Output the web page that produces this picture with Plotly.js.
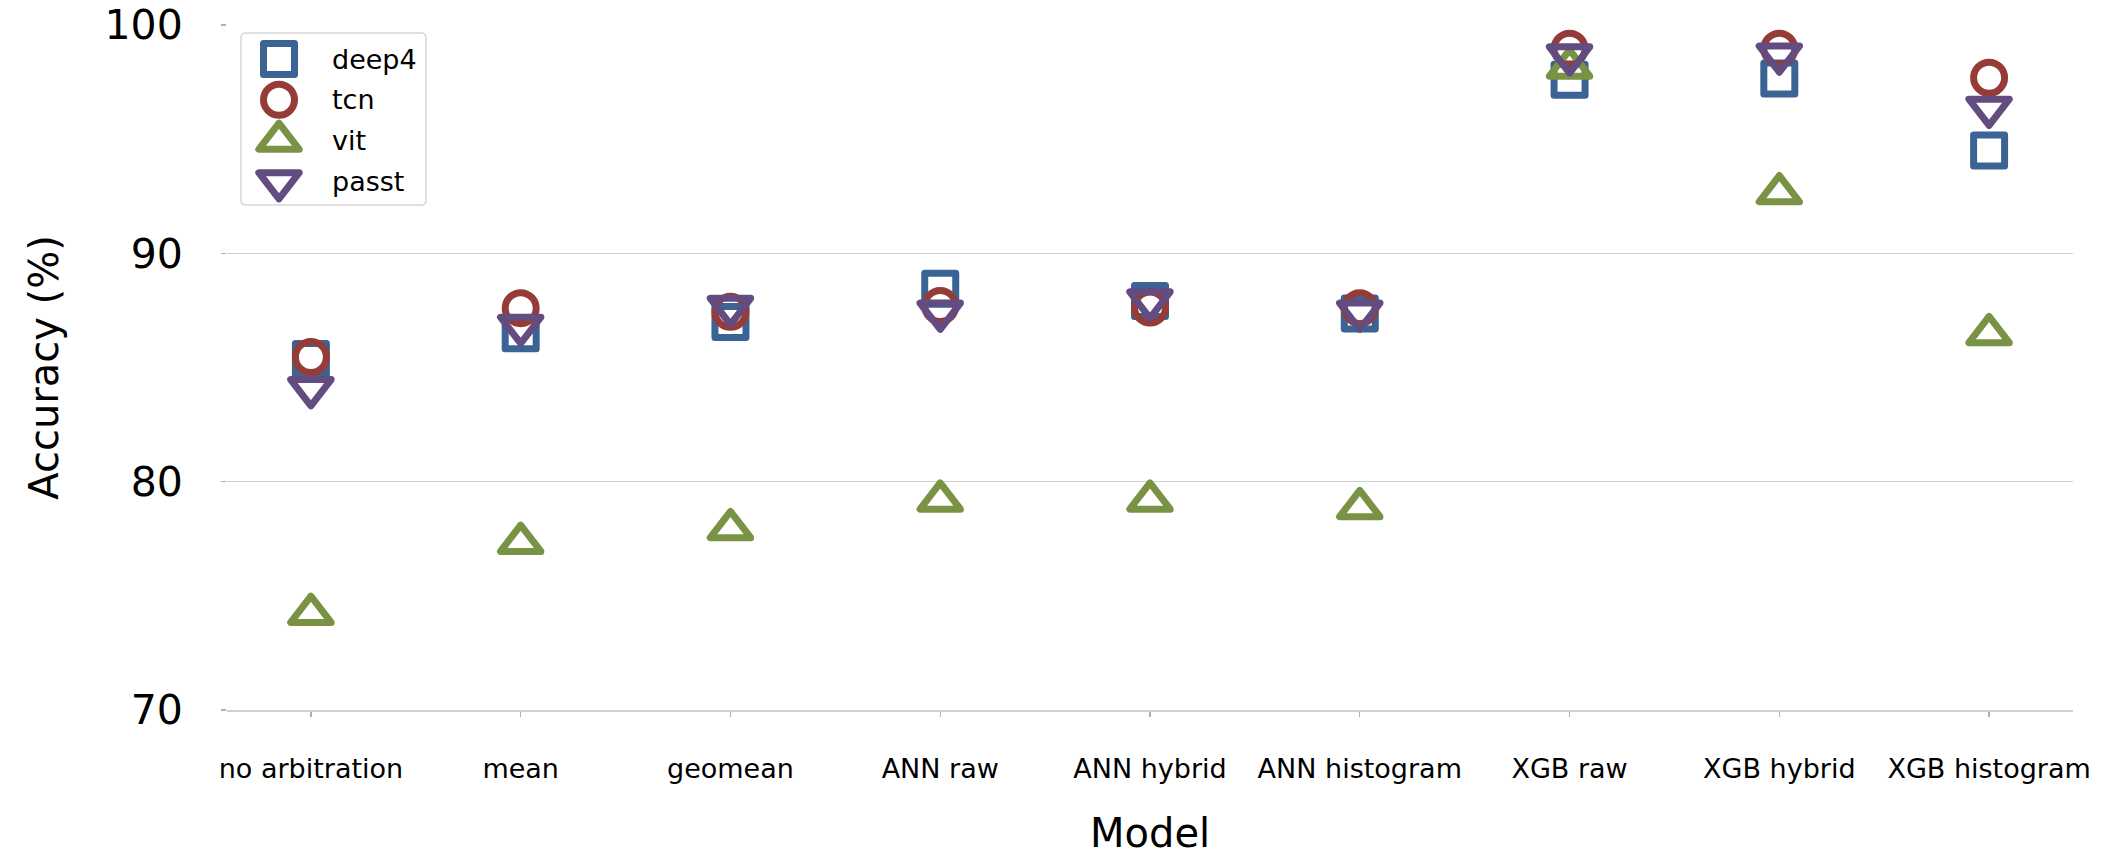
<!DOCTYPE html>
<html>
<head>
<meta charset="utf-8">
<script src="https://cdn.plot.ly/plotly-3.0.1.min.js"></script>
<style>
  html, body { margin: 0; padding: 0; background: #ffffff; }
  #chart { width: 2110px; height: 860px; }
  /* rounded corners on the hollow marker outlines */
  .scatterlayer .point { stroke-linejoin: round; stroke-linecap: round; }
</style>
</head>
<body>
<div id="chart"></div>
<script>
// Arbitration methods on the x axis
const models = ['no arbitration', 'mean', 'geomean', 'ANN raw', 'ANN hybrid',
                'ANN histogram', 'XGB raw', 'XGB hybrid', 'XGB histogram'];

// Accuracy (%) per backbone network
const deep4 = [85.37, 86.50, 86.99, 88.45, 87.91, 87.37, 97.60, 97.66, 94.50];
const tcn   = [85.46, 87.60, 87.44, 87.69, 87.63, 87.60, 98.96, 98.96, 97.69];
const vit   = [74.22, 77.33, 77.93, 79.18, 79.18, 78.85, 98.14, 92.64, 86.47];
const passt = [84.09, 86.82, 87.65, 87.44, 87.93, 87.44, 98.66, 98.70, 96.37];

const yTicks = [70, 80, 90, 100];

const FONT = 'DejaVu Sans, Liberation Sans, sans-serif';
const series = [
  { name: 'deep4', y: deep4, color: '#3b6394', symbol: 'square-open',        size: 31 },
  { name: 'tcn',   y: tcn,   color: '#963c38', symbol: 'circle-open',        size: 31 },
  { name: 'vit',   y: vit,   color: '#7a9244', symbol: 'triangle-up-open',   size: 35 },
  { name: 'passt', y: passt, color: '#624c80', symbol: 'triangle-down-open', size: 35 }
];
const STROKE = 7;

const traces = series.map(s => ({
  type: 'scatter',
  mode: 'markers',
  name: s.name,
  x: models,
  y: s.y,
  showlegend: false,
  hoverinfo: 'x+y+name',
  marker: { symbol: s.symbol, size: s.size, color: s.color, opacity: 1,
            line: { color: s.color, width: STROKE } }
}));

// Legend drawn in plot-pixel units on an overlay axis pair
const ML = 227, MT = 25, PW = 1846, PH = 685;
const LEG = { x0: 14, x1: 199, y0: 8, y1: 180, symX: 52, textX: 103, row0: 34, step: 40.8, r: 5 };
const legendRows = series.map((s, i) => LEG.row0 + i * LEG.step);
traces.push({
  type: 'scatter', mode: 'markers', xaxis: 'x2', yaxis: 'y2',
  x: series.map(() => LEG.symX), y: legendRows,
  showlegend: false, hoverinfo: 'skip',
  marker: { symbol: series.map(s => s.symbol), size: series.map(s => s.size),
            color: series.map(s => s.color), opacity: 1,
            line: { color: series.map(s => s.color), width: STROKE } }
});

// legend frame in paper units, under everything
const px2paperX = v => v / PW;
const px2paperY = v => 1 - v / PH;
function roundedRect(x0, y0, x1, y1, r) {
  const X = px2paperX, Y = px2paperY;
  return `M${X(x0 + r)},${Y(y0)} L${X(x1 - r)},${Y(y0)} Q${X(x1)},${Y(y0)} ${X(x1)},${Y(y0 + r)} ` +
         `L${X(x1)},${Y(y1 - r)} Q${X(x1)},${Y(y1)} ${X(x1 - r)},${Y(y1)} L${X(x0 + r)},${Y(y1)} ` +
         `Q${X(x0)},${Y(y1)} ${X(x0)},${Y(y1 - r)} L${X(x0)},${Y(y0 + r)} Q${X(x0)},${Y(y0)} ${X(x0 + r)},${Y(y0)} Z`;
}

const layout = {
  width: 2110, height: 860,
  paper_bgcolor: '#ffffff', plot_bgcolor: 'rgba(0,0,0,0)',
  margin: { l: ML, r: 37, t: MT, b: 150 },
  font: { family: FONT, color: '#000000' },
  showlegend: false,
  xaxis: {
    type: 'category',
    range: [-0.4, 8.4],
    showgrid: false, zeroline: false,
    showline: true, linecolor: '#d0d0d0', linewidth: 1.5,
    ticks: 'outside', ticklen: 5, tickwidth: 1.3, tickcolor: '#b0b0b0',
    tickfont: { family: FONT, size: 27, color: '#000000' },
    ticklabelstandoff: 29,
    automargin: false
  },
  yaxis: {
    range: [70, 100],
    tickvals: yTicks, ticktext: yTicks.map(String),
    showgrid: true, gridcolor: '#d0d0d0', gridwidth: 1.5,
    zeroline: false, showline: false,
    ticks: 'outside', ticklen: 5, tickwidth: 1.3, tickcolor: '#b0b0b0',
    tickfont: { family: FONT, size: 41, color: '#000000' },
    ticklabelstandoff: 30,
    automargin: 'left',
    title: { text: 'Accuracy (%)', font: { family: FONT, size: 40, color: '#000000' }, standoff: 33 }
  },
  xaxis2: { overlaying: 'x', anchor: 'y2', range: [0, PW], visible: false, fixedrange: true },
  yaxis2: { overlaying: 'y', anchor: 'x2', range: [PH, 0], visible: false, fixedrange: true },
  shapes: [{
    type: 'path', xref: 'paper', yref: 'paper', layer: 'below',
    path: roundedRect(LEG.x0, LEG.y0, LEG.x1, LEG.y1, LEG.r),
    fillcolor: '#ffffff',
    line: { color: '#d6d6d6', width: 1.5 }
  }],
  annotations: series.map((s, i) => ({
    xref: 'x2', yref: 'y2', x: LEG.textX, y: legendRows[i],
    xanchor: 'left', yanchor: 'middle', showarrow: false,
    text: s.name, font: { family: FONT, size: 27, color: '#000000' }
  })).concat([{
    // x axis title, set below the category labels and kept inside the page
    xref: 'paper', yref: 'paper', x: 0.5, y: -148 / PH,
    xanchor: 'center', yanchor: 'bottom', showarrow: false,
    text: 'Model', font: { family: FONT, size: 40, color: '#000000' }
  }])
};

Plotly.newPlot('chart', traces, layout, { displayModeBar: false, staticPlot: true });
</script>
</body>
</html>
